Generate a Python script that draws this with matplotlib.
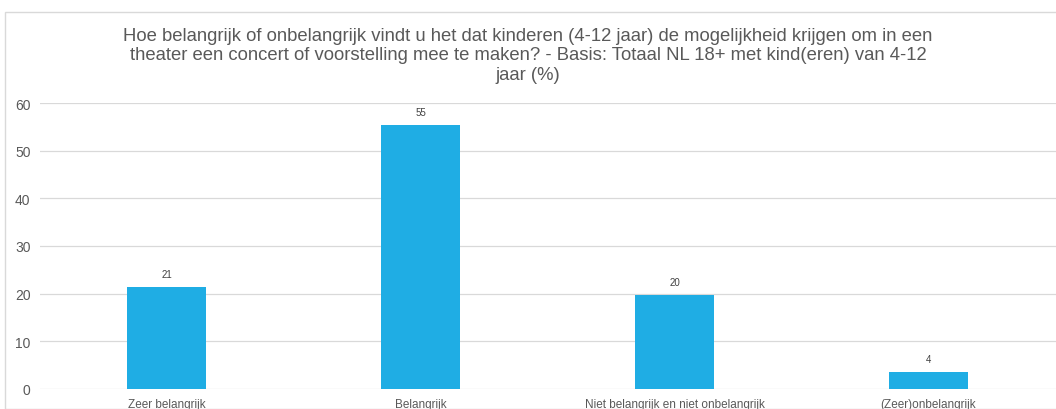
import matplotlib
matplotlib.use("Agg")
import matplotlib.pyplot as plt
from matplotlib.patches import Rectangle

categories = ["Zeer belangrijk", "Belangrijk", "Niet belangrijk en niet onbelangrijk", "(Zeer)onbelangrijk"]
values = [21.4, 55.4, 19.7, 3.6]
labels = ["21", "55", "20", "4"]
yticks = [0, 10, 20, 30, 40, 50, 60]
title = ("Hoe belangrijk of onbelangrijk vindt u het dat kinderen (4-12 jaar) de mogelijkheid krijgen om in een\n"
         "theater een concert of voorstelling mee te maken? - Basis: Totaal NL 18+ met kind(eren) van 4-12\n"
         "jaar (%)")

plt.rcParams['font.family'] = ['Liberation Sans', 'DejaVu Sans']

W, H = 1056, 410
fig = plt.figure(figsize=(W/100, H/100), dpi=100)
fig.patch.set_facecolor('white')

# outer chart border
fig.patches.append(Rectangle((5/W, 0), (W+10)/W, (H-12.5)/H, transform=fig.transFigure,
                             fill=False, edgecolor='#D9D9D9', linewidth=1.0, clip_on=False))

ax = fig.add_axes([39.5/W, (H-390)/H, (1055.5-39.5)/W, (390-104)/H])
x = list(range(len(categories)))
bars = ax.bar(x, values, width=0.31, color='#1FADE4', zorder=3)
ax.set_xlim(-0.5, 3.5)
ax.set_ylim(0, 60)
ax.set_yticks(yticks)
ax.set_yticklabels([str(v) for v in yticks], fontsize=10, color='#595959')
ax.set_xticks(x)
ax.set_xticklabels(categories, fontsize=8.5, color='#595959')
ax.tick_params(axis='both', length=0)
ax.tick_params(axis='x', pad=6.5)
ax.tick_params(axis='y', pad=6.5)
ax.grid(axis='y', color='#D9D9D9', linewidth=0.9, zorder=0)
for s in ax.spines.values():
    s.set_visible(False)
for xi, v, lab in zip(x, values, labels):
    ax.annotate(lab, (xi, v), xytext=(0, 6), textcoords='offset points',
                ha='center', va='bottom', fontsize=7, color='#404040')

fig.text(0.5, (H-56)/H, title, ha='center', va='center', fontsize=13.3, color='#595959',
         linespacing=1.2)

fig.savefig('out.png', dpi=100, facecolor='white')
